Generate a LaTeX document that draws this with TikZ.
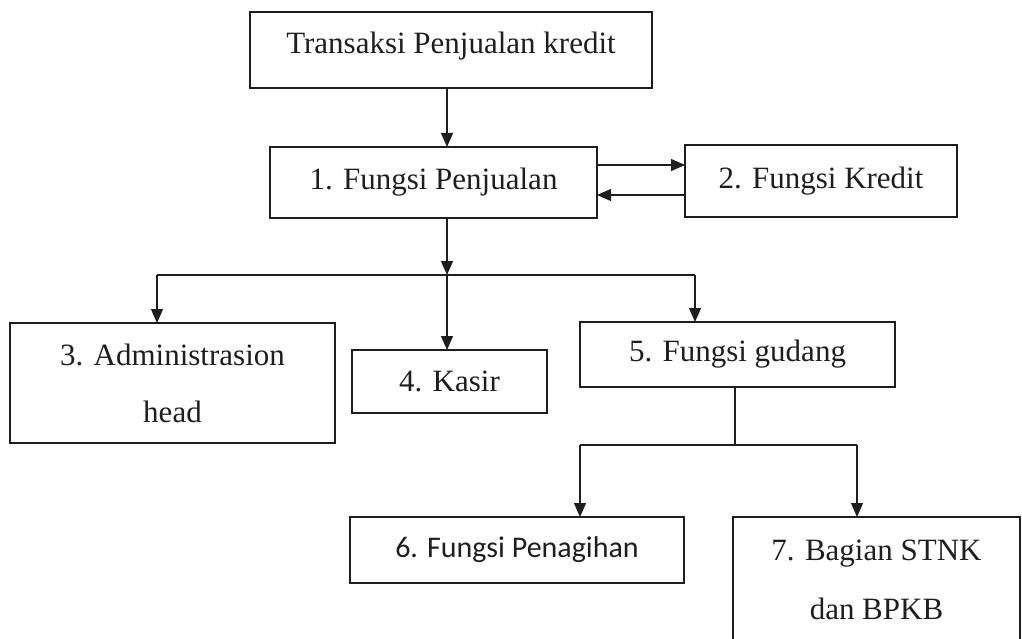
\documentclass[tikz,border=0pt]{standalone}
\usepackage{fontspec}
\setmainfont{Liberation Serif}
\newfontfamily\calfont{Carlito}
\usetikzlibrary{arrows.meta}
\definecolor{ink}{HTML}{1E1E1E}
\tikzset{
  box/.style={draw=ink, line width=1.2pt, rectangle, inner sep=0pt, outer sep=0pt,
    text=ink, align=center, font=\fontsize{31}{57}\selectfont},
  arr/.style={draw=ink, line width=1.2pt, -{Triangle[length=14pt,width=12pt]}},
  ln/.style={draw=ink, line width=1.2pt}
}
\begin{document}
\begin{tikzpicture}[x=1pt,y=-1pt]
\useasboundingbox (0,0) rectangle (1022,639);
\node[box, minimum width=402pt, minimum height=76pt, text height=21pt, text depth=14.6pt] (t) at (451,50) {Transaksi Penjualan kredit};
\node[box, minimum width=327pt, minimum height=71pt] (f1) at (433.5,182.5) {1. Fungsi Penjualan};
\node[box, minimum width=272pt, minimum height=72pt] (f2) at (821,181) {2. Fungsi Kredit};
\node[box, minimum width=325pt, minimum height=120pt] (f3) at (172.5,383) {3. Administrasion\\head};
\node[box, minimum width=195pt, minimum height=63pt] (f4) at (449.5,381.5) {4. Kasir};
\node[box, minimum width=315pt, minimum height=65pt] (f5) at (737.5,354.5) {5. Fungsi gudang};
\node[box, minimum width=334pt, minimum height=66pt, font=\calfont\fontsize{30}{36}\selectfont] (f6) at (517,550) {6. Fungsi Penagihan};
\node[box, minimum width=287pt, minimum height=125pt, font=\fontsize{31}{59}\selectfont] (f7) at (876.5,579.5) {7. Bagian STNK\\dan BPKB};

\coordinate (b1) at (447,275);
\coordinate (b3) at (157,275);
\coordinate (b5) at (695,275);
\coordinate (c5) at (735,445);
\coordinate (c6) at (580,445);
\coordinate (c7) at (857,445);

\draw[arr] (t.south -| b1) -- (f1.north -| b1);
\draw[arr] ([yshift=17.5pt]f1.east) -- ([yshift=17.5pt]f1.east -| f2.west);
\draw[arr] ([yshift=-12.5pt]f1.east -| f2.west) -- ([yshift=-12.5pt]f1.east);
\draw[arr] (f1.south -| b1) -- (b1);
\draw[ln] (b3) -- (b5);
\draw[arr] (b3) -- (b3 |- f3.north);
\draw[arr] (b1) -- (b1 |- f4.north);
\draw[arr] (b5) -- (b5 |- f5.north);
\draw[ln] (f5.south -| c5) -- (c5);
\draw[ln] (c6) -- (c7);
\draw[arr] (c6) -- (c6 |- f6.north);
\draw[arr] (c7) -- (c7 |- f7.north);
\end{tikzpicture}
\end{document}
